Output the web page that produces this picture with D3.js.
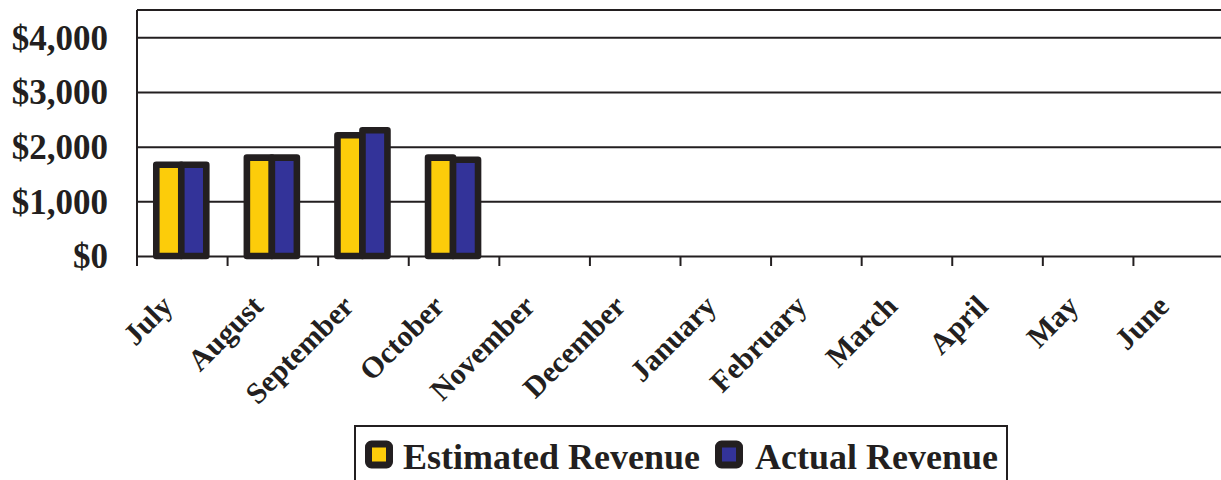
<!DOCTYPE html>
<html>
<head>
<meta charset="utf-8">
<script src="https://cdn.jsdelivr.net/npm/d3@7"></script>
<style>
  html, body { margin: 0; padding: 0; background: #fff; overflow: hidden; }
  svg { display: block; }
  text { font-family: "Liberation Serif", "Times New Roman", serif; font-weight: bold; fill: #231f20; }
</style>
</head>
<body>
<svg id="chart" width="1221" height="480"></svg>
<script>
const months = ["July", "August", "September", "October", "November", "December",
                "January", "February", "March", "April", "May", "June"];
const estimated = [1670, 1800, 2210, 1800, null, null, null, null, null, null, null, null];
const actual    = [1670, 1800, 2300, 1760, null, null, null, null, null, null, null, null];
const yTicks = [0, 1000, 2000, 3000, 4000];
const seriesNames = ["Estimated Revenue", "Actual Revenue"];
const seriesColors = ["#fccc0a", "#333399"];

(function () {
const ink = "#231f20";
const svg = d3.select("#chart");
const pLeft = 137, pTop = 10, pRight = 1224, pBottom = 256;

const x = d3.scaleBand().domain(months).range([pLeft, pRight]).padding(0);
const y = d3.scaleLinear().domain([0, 4500]).range([pBottom, pTop]);

// gridlines + y labels via axis
const yAxis = d3.axisLeft(y).tickValues(yTicks)
  .tickSize(-(pRight - pLeft)).tickPadding(29)
  .tickFormat(d => "$" + d3.format(",")(d));
const gy = svg.append("g").attr("transform", `translate(${pLeft},0)`).call(yAxis);
gy.select(".domain").remove();
gy.selectAll(".tick line").attr("stroke", ink).attr("stroke-width", 2);
gy.selectAll(".tick text").attr("font-size", 35).attr("fill", ink)
  .attr("font-family", "Liberation Serif").attr("font-weight", "bold").attr("dy", "0.34em");

// plot-area borders: left and top
svg.append("line").attr("x1", pLeft).attr("x2", pLeft).attr("y1", pTop).attr("y2", pBottom + 10)
  .attr("stroke", ink).attr("stroke-width", 2);
svg.append("line").attr("x1", pLeft).attr("x2", pRight).attr("y1", pTop).attr("y2", pTop)
  .attr("stroke", ink).attr("stroke-width", 2);

// category tick marks at band boundaries
const bounds = months.map(m => x(m)).concat([pRight]);
svg.append("g").selectAll("line").data(bounds).join("line")
  .attr("x1", d => d).attr("x2", d => d).attr("y1", pBottom).attr("y2", pBottom + 10)
  .attr("stroke", ink).attr("stroke-width", 2);

// bars
const barW = x.bandwidth() * 0.276;
const series = [estimated, actual];
series.forEach((vals, si) => {
  svg.append("g").selectAll("rect")
    .data(months.map((m, i) => ({m, v: vals[i]})).filter(d => d.v != null))
    .join("rect")
    .attr("x", d => x(d.m) + x.bandwidth() / 2 - 1 - barW + si * barW)
    .attr("width", barW)
    .attr("y", d => y(d.v))
    .attr("height", d => y(0) - y(d.v))
    .attr("fill", seriesColors[si])
    .attr("stroke", ink).attr("stroke-width", 6.6).attr("stroke-linejoin", "round");
});

// x labels rotated
svg.append("g").selectAll("text").data(months).join("text")
  .attr("transform", d => `translate(${x(d) + x.bandwidth() / 2 - 8},308) rotate(-45)`)
  .attr("text-anchor", "end")
  .attr("font-size", 30)
  .text(d => d);

// legend
const lg = svg.append("g");
lg.append("rect").attr("x", 355).attr("y", 426).attr("width", 652).attr("height", 80)
  .attr("fill", "#fff").attr("stroke", ink).attr("stroke-width", 2);
const legendItems = [
  {name: seriesNames[0], color: seriesColors[0], mx: 368.5, tx: 403},
  {name: seriesNames[1], color: seriesColors[1], mx: 718.5, tx: 755}
];
legendItems.forEach(it => {
  lg.append("rect").attr("x", it.mx).attr("y", 444).attr("width", 21).attr("height", 21)
    .attr("rx", 3).attr("fill", it.color).attr("stroke", ink).attr("stroke-width", 7)
    .attr("stroke-linejoin", "round");
  lg.append("text").attr("x", it.tx).attr("y", 469).attr("font-size", 36).text(it.name);
});
})();
</script>
</body>
</html>
